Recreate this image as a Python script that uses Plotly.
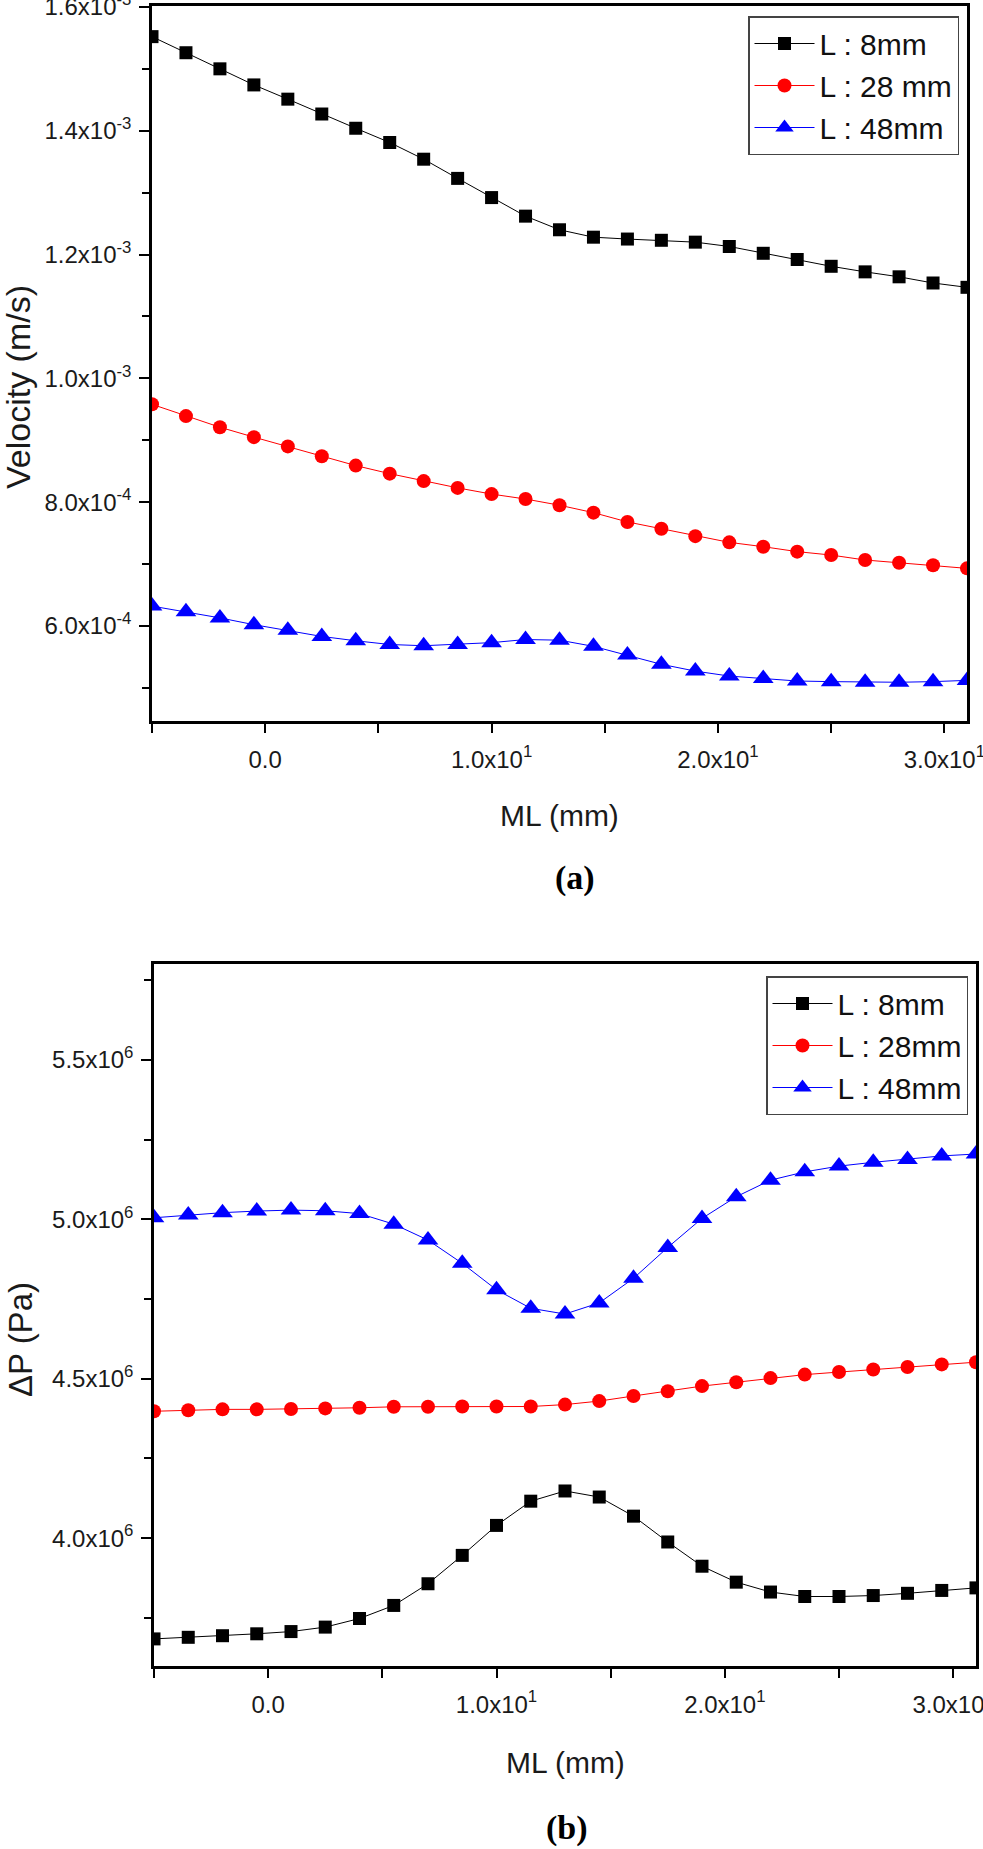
import plotly.graph_objects as go

# ---------------- data ----------------
ml = [-5, -3.5, -2, -0.5, 1, 2.5, 4, 5.5, 7, 8.5, 10, 11.5, 13, 14.5, 16,
      17.5, 19, 20.5, 22, 23.5, 25, 26.5, 28, 29.5, 31]

vel_8 = [1.552e-3, 1.526e-3, 1.500e-3, 1.474e-3, 1.451e-3, 1.427e-3, 1.404e-3,
         1.381e-3, 1.354e-3, 1.323e-3, 1.292e-3, 1.262e-3, 1.240e-3, 1.228e-3,
         1.225e-3, 1.223e-3, 1.220e-3, 1.213e-3, 1.202e-3, 1.192e-3, 1.181e-3,
         1.172e-3, 1.164e-3, 1.154e-3, 1.147e-3]
vel_28 = [0.958e-3, 0.939e-3, 0.921e-3, 0.905e-3, 0.890e-3, 0.874e-3, 0.859e-3,
          0.846e-3, 0.834e-3, 0.823e-3, 0.813e-3, 0.805e-3, 0.795e-3, 0.783e-3,
          0.768e-3, 0.757e-3, 0.745e-3, 0.735e-3, 0.728e-3, 0.720e-3, 0.7145e-3,
          0.7065e-3, 0.702e-3, 0.698e-3, 0.693e-3]
vel_48 = [0.632e-3, 0.623e-3, 0.613e-3, 0.602e-3, 0.593e-3, 0.583e-3, 0.576e-3,
          0.570e-3, 0.568e-3, 0.570e-3, 0.573e-3, 0.578e-3, 0.577e-3, 0.567e-3,
          0.553e-3, 0.538e-3, 0.527e-3, 0.519e-3, 0.515e-3, 0.511e-3, 0.510e-3,
          0.509e-3, 0.509e-3, 0.510e-3, 0.512e-3]

dp_8 = [3.684e6, 3.689e6, 3.694e6, 3.700e6, 3.707e6, 3.721e6, 3.748e6, 3.789e6,
        3.857e6, 3.946e6, 4.040e6, 4.116e6, 4.148e6, 4.129e6, 4.069e6, 3.988e6,
        3.912e6, 3.862e6, 3.831e6, 3.817e6, 3.817e6, 3.820e6, 3.827e6, 3.836e6,
        3.844e6]
dp_28 = [4.398e6, 4.401e6, 4.404e6, 4.404e6, 4.405e6, 4.407e6, 4.409e6, 4.412e6,
         4.412e6, 4.413e6, 4.413e6, 4.413e6, 4.419e6, 4.430e6, 4.446e6, 4.461e6,
         4.477e6, 4.489e6, 4.502e6, 4.513e6, 4.521e6, 4.529e6, 4.537e6, 4.545e6,
         4.552e6]
dp_48 = [5.005e6, 5.014e6, 5.021e6, 5.026e6, 5.029e6, 5.027e6, 5.018e6, 4.985e6,
         4.935e6, 4.862e6, 4.779e6, 4.721e6, 4.703e6, 4.738e6, 4.815e6, 4.912e6,
         5.003e6, 5.071e6, 5.123e6, 5.149e6, 5.167e6, 5.179e6, 5.188e6, 5.199e6,
         5.205e6]

names_a = ["L : 8mm", "L : 28 mm", "L : 48mm"]
names_b = ["L : 8mm", "L : 28mm", "L : 48mm"]

x_tickvals = [0, 10, 20, 30]
x_ticktext = ["0.0", "1.0x10<sup>1</sup>", "2.0x10<sup>1</sup>", "3.0x10<sup>1</sup>"]
ya_tickvals = [6e-4, 8e-4, 1.0e-3, 1.2e-3, 1.4e-3, 1.6e-3]
ya_ticktext = ["6.0x10<sup>-4</sup>", "8.0x10<sup>-4</sup>", "1.0x10<sup>-3</sup>",
               "1.2x10<sup>-3</sup>", "1.4x10<sup>-3</sup>", "1.6x10<sup>-3</sup>"]
yb_tickvals = [4.0e6, 4.5e6, 5.0e6, 5.5e6]
yb_ticktext = ["4.0x10<sup>6</sup>", "4.5x10<sup>6</sup>", "5.0x10<sup>6</sup>",
               "5.5x10<sup>6</sup>"]

# ---------------- figure ----------------
W, H = 983, 1849
FONT = "Liberation Sans, Arial, sans-serif"

colors = ["#000000", "#FF0000", "#0000FF"]
symbols = ["square", "circle", "triangle-up"]
msizes = [13, 14, 18]

fig = go.Figure()
for ys, nm, c, s, ms in zip([vel_8, vel_28, vel_48], names_a, colors, symbols, msizes):
    fig.add_trace(go.Scatter(x=ml, y=ys, name=nm, mode="lines+markers",
                             line=dict(color=c, width=1),
                             marker=dict(symbol=s, size=ms, color=c),
                             xaxis="x", yaxis="y", legend="legend"))
for ys, nm, c, s, ms in zip([dp_8, dp_28, dp_48], names_b, colors, symbols, msizes):
    fig.add_trace(go.Scatter(x=ml, y=ys, name=nm, mode="lines+markers",
                             line=dict(color=c, width=1),
                             marker=dict(symbol=s, size=ms, color=c),
                             xaxis="x2", yaxis="y2", legend="legend2"))

def px(v):
    return v / W

def py(v):
    return 1 - v / H

axis_common = dict(showline=True, linecolor="black", linewidth=2.5, mirror=True,
                   ticks="outside", tickwidth=2, tickcolor="black",
                   showgrid=False, zeroline=False, ticklabeloverflow="allow",
                   automargin=False,
                   tickfont=dict(family=FONT, size=24, color="#1a1a1a"))

xa = dict(axis_common, range=[-5, 31], tickmode="array", tickvals=x_tickvals,
          ticktext=x_ticktext, ticklen=9, ticklabelstandoff=6,
          minor=dict(ticks="outside", ticklen=9, tickwidth=2, tickcolor="black",
                     tick0=0, dtick=5))

fig.update_layout(
    width=W, height=H,
    margin=dict(l=0, r=0, t=0, b=0, autoexpand=False),
    paper_bgcolor="white", plot_bgcolor="white",
    font=dict(family=FONT, color="#1a1a1a"),
    xaxis=dict(xa, domain=[px(152), px(967)], anchor="y"),
    yaxis=dict(axis_common, domain=[py(721), py(6)], anchor="x",
               range=[4.464e-4, 1.6015e-3], tickmode="array",
               tickvals=ya_tickvals, ticktext=ya_ticktext, ticklen=10,
               ticklabelstandoff=3,
               minor=dict(ticks="outside", ticklen=7, tickwidth=2,
                          tickcolor="black", tick0=0, dtick=1e-4)),
    xaxis2=dict(xa, domain=[px(154), px(976)], anchor="y2"),
    yaxis2=dict(axis_common, domain=[py(1666), py(964)], anchor="x2",
                range=[3.599e6, 5.801e6], tickmode="array",
                tickvals=yb_tickvals, ticktext=yb_ticktext, ticklen=10,
                ticklabelstandoff=3,
                minor=dict(ticks="outside", ticklen=7, tickwidth=2,
                           tickcolor="black", tick0=0, dtick=0.25e6)),
    legend=dict(x=px(959), y=py(16), xanchor="right", yanchor="top",
                bgcolor="white", bordercolor="#444", borderwidth=1.5,
                font=dict(family=FONT, size=30, color="#111"),
                itemwidth=60, tracegroupgap=0),
    legend2=dict(x=px(968), y=py(976), xanchor="right", yanchor="top",
                 bgcolor="white", bordercolor="#444", borderwidth=1.5,
                 font=dict(family=FONT, size=30, color="#111"),
                 itemwidth=60, tracegroupgap=0),
    showlegend=True,
)

annots = [
    dict(text="Velocity (m/s)", x=px(18), y=py(387), textangle=-90,
         font=dict(size=34)),
    dict(text="ML (mm)", x=px(559), y=py(815), font=dict(size=30)),
    dict(text="<b>(a)</b>", x=px(575), y=py(878),
         font=dict(family="Liberation Serif, Times New Roman, serif", size=34,
                   color="black")),
    dict(text="\u0394P (Pa)", x=px(20), y=py(1340), textangle=-90,
         font=dict(size=33)),
    dict(text="ML (mm)", x=px(565), y=py(1762), font=dict(size=30)),
    dict(text="<b>(b)</b>", x=px(567), y=py(1828),
         font=dict(family="Liberation Serif, Times New Roman, serif", size=34,
                   color="black")),
]
for a in annots:
    fig.add_annotation(xref="paper", yref="paper", showarrow=False,
                       xanchor="center", yanchor="middle", **a)

fig.write_html("out.html")
